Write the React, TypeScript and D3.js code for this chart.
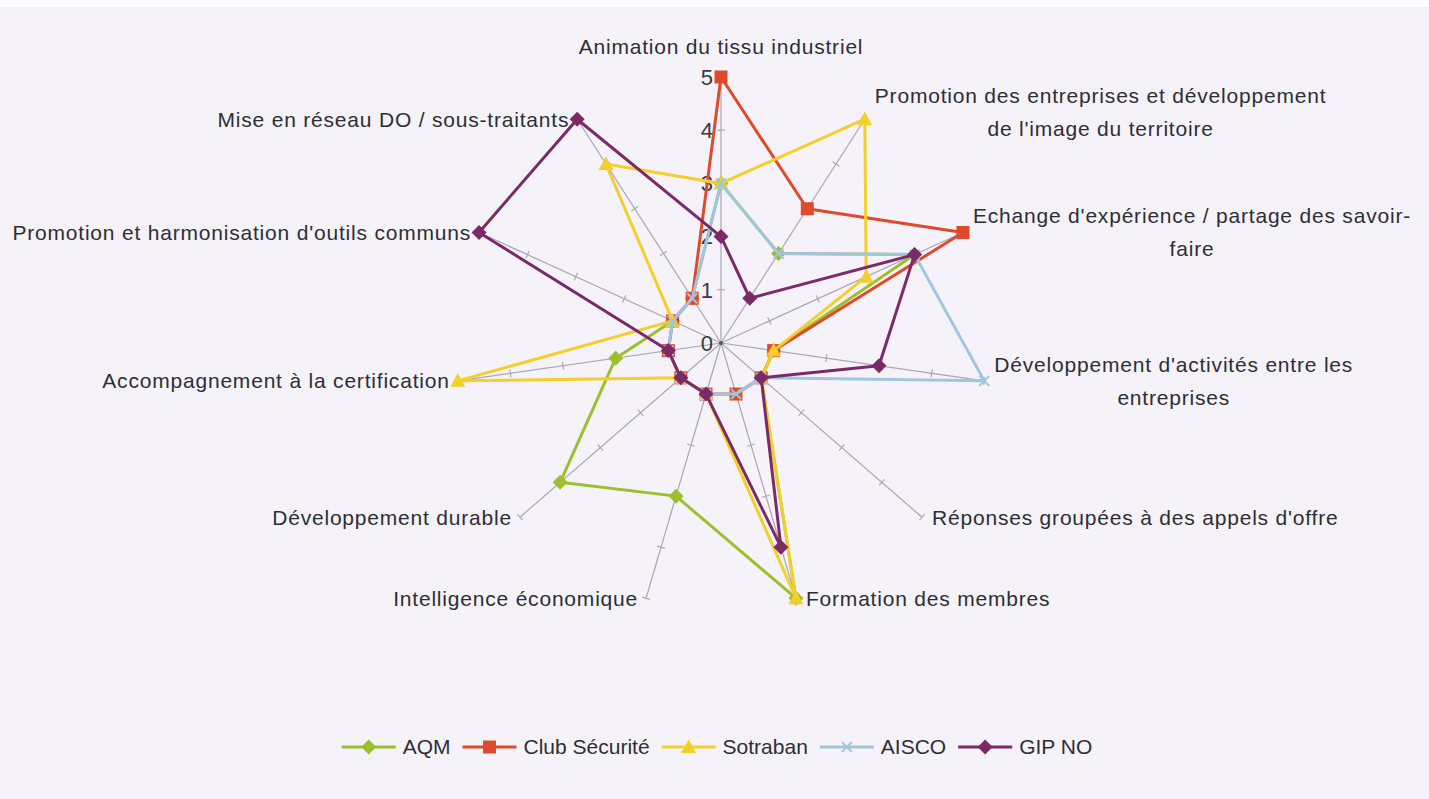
import React, { useEffect, useRef } from 'react';
import * as d3 from 'd3';

const categories = [
  'Animation du tissu industriel',
  "Promotion des entreprises et développement\nde l'image du territoire",
  "Echange d'expérience / partage des savoir-\nfaire",
  "Développement d'activités entre les\nentreprises",
  "Réponses groupées à des appels d'offre",
  'Formation des membres',
  'Intelligence économique',
  'Développement durable',
  'Accompagnement à la certification',
  "Promotion et harmonisation d'outils communs",
  'Mise en réseau DO / sous-traitants',
];

const seriesNames = ['AQM', 'Club Sécurité', 'Sotraban', 'AISCO', 'GIP NO'];
const aqm = [3, 2, 4, 1, 1, 5, 3, 4, 2, 1, 1];
const clubSecurite = [5, 3, 5, 1, 1, 1, 1, 1, 1, 1, 1];
const sotraban = [3, 5, 3, 1, 1, 5, 1, 1, 5, 1, 4];
const aisco = [3, 2, 4, 5, 1, 1, 1, 1, 1, 1, 1];
const gipNo = [2, 1, 4, 3, 1, 4, 1, 1, 1, 5, 5];
const tickValues = [0, 1, 2, 3, 4, 5];

const colors = ['#9cbf2e', '#e04a2c', '#f2cf2a', '#9fc6df', '#7a2a66'];
const shapes = ['diamond', 'square', 'triangle', 'x', 'diamond'];

const W = 1429;
const H = 799;
const FONT = '"Liberation Sans", Arial, sans-serif';

function markerPath(shape: string) {
  if (shape === 'diamond') return 'M0,-7.5L7.5,0L0,7.5L-7.5,0Z';
  if (shape === 'square') return 'M-6.5,-6.5H6.5V6.5H-6.5Z';
  if (shape === 'triangle') return 'M0,-7.5L7.5,6L-7.5,6Z';
  return 'M-5,-5L5,5M-5,5L5,-5';
}

export default function App() {
  const ref = useRef<SVGSVGElement>(null);

  useEffect(() => {
    document.body.style.margin = '0';
    const svg = d3.select(ref.current);
    svg.selectAll('*').remove();

    const cx = 721;
    const cy = 343;
    const n = categories.length;
    const r = d3.scaleLinear().domain([0, 5]).range([0, 266]);
    const angle = (i: number) => (i * 2 * Math.PI) / n;
    const pt = (i: number, v: number) => [
      cx + r(v) * Math.sin(angle(i)),
      cy - r(v) * Math.cos(angle(i)),
    ];

    svg.append('rect').attr('width', W).attr('height', H).attr('fill', '#f6f2fa');
    svg.append('rect').attr('width', W).attr('height', 7).attr('fill', '#fdfcfe');

    const g = svg.append('g');

    // spokes with tick marks
    categories.forEach((c, i) => {
      const [x1, y1] = pt(i, 5);
      g.append('line')
        .attr('x1', cx).attr('y1', cy).attr('x2', x1).attr('y2', y1)
        .attr('stroke', '#a9a6b6').attr('stroke-width', 1.2);
      const a = angle(i);
      const px = Math.cos(a);
      const py = Math.sin(a);
      tickValues.slice(1).forEach(t => {
        const [tx, ty] = pt(i, t);
        g.append('line')
          .attr('x1', tx - px * 4).attr('y1', ty - py * 4)
          .attr('x2', tx + px * 4).attr('y2', ty + py * 4)
          .attr('stroke', '#a9a6b6').attr('stroke-width', 1.2);
      });
    });
    g.append('circle').attr('cx', cx).attr('cy', cy).attr('r', 2).attr('fill', '#555');

    // value labels on first axis
    tickValues.forEach(t => {
      g.append('text')
        .attr('x', cx - 8).attr('y', cy - r(t))
        .attr('dy', '0.35em')
        .attr('text-anchor', 'end')
        .attr('font-family', FONT).attr('font-size', 22)
        .attr('fill', '#3a3a44')
        .text(t);
    });

    // category labels
    categories.forEach((c, i) => {
      const a = angle(i);
      const s = Math.sin(a);
      const lines = c.split('\n');
      const lh = 33;
      const text = g.append('text')
        .attr('font-family', FONT).attr('font-size', 21)
        .attr('letter-spacing', 0.8)
        .attr('fill', '#2e2e36');
      const tsp = lines.map(l => text.append('tspan').text(l));
      const widths = tsp.map(t => (t.node() as SVGTSpanElement).getComputedTextLength());
      const bw = d3.max(widths) || 0;
      const [ex, ey] = pt(i, 5);
      let mx;
      let topY;
      if (Math.abs(s) < 0.05) {
        mx = ex;
        topY = ey - 14 - lines.length * lh;
      } else {
        mx = s > 0 ? ex + 10 + bw / 2 : ex - 8 - bw / 2;
        topY = ey - (lines.length * lh) / 2;
        if (i === 1) topY -= 7;
      }
      tsp.forEach((t, k) => {
        t.attr('x', mx).attr('y', topY + lh * k + lh / 2).attr('dy', '0.35em')
          .attr('text-anchor', 'middle');
      });
    });

    // series
    const data = [aqm, clubSecurite, sotraban, aisco, gipNo];
    const line = d3.lineRadial<number>()
      .angle((d, i) => angle(i))
      .radius(d => r(d))
      .curve(d3.curveLinearClosed);

    data.forEach((vals, si) => {
      const sg = g.append('g');
      sg.append('path')
        .attr('transform', `translate(${cx},${cy})`)
        .attr('d', line(vals))
        .attr('fill', 'none')
        .attr('stroke', colors[si])
        .attr('stroke-width', 3)
        .attr('stroke-linejoin', 'round');
      vals.forEach((v, i) => {
        const [x, y] = pt(i, v);
        const m = sg.append('path')
          .attr('transform', `translate(${x},${y})`)
          .attr('d', markerPath(shapes[si]));
        if (shapes[si] === 'x') {
          m.attr('fill', 'none').attr('stroke', colors[si]).attr('stroke-width', 2);
        } else {
          m.attr('fill', colors[si]);
        }
      });
    });

    // legend
    const leg = svg.append('g');
    const ly = 747;
    let x = 0;
    seriesNames.forEach((name, si) => {
      const item = leg.append('g').attr('transform', `translate(${x},0)`);
      item.append('line').attr('x1', 0).attr('x2', 54).attr('y1', ly).attr('y2', ly)
        .attr('stroke', colors[si]).attr('stroke-width', 3);
      const m = item.append('path').attr('transform', `translate(27,${ly})`)
        .attr('d', markerPath(shapes[si]));
      if (shapes[si] === 'x') {
        m.attr('fill', 'none').attr('stroke', colors[si]).attr('stroke-width', 2);
      } else {
        m.attr('fill', colors[si]);
      }
      const t = item.append('text').attr('x', 61).attr('y', ly).attr('dy', '0.35em')
        .attr('font-family', FONT).attr('font-size', 21)
        .attr('fill', '#2e2e36').text(name);
      const tw = (t.node() as SVGTextElement).getComputedTextLength();
      x += 61 + tw + 12;
    });
    const total = x - 12;
    leg.attr('transform', `translate(${717 - total / 2},0)`);
  }, []);

  return <svg ref={ref} width={W} height={H} style={{ display: 'block' }} />;
}
